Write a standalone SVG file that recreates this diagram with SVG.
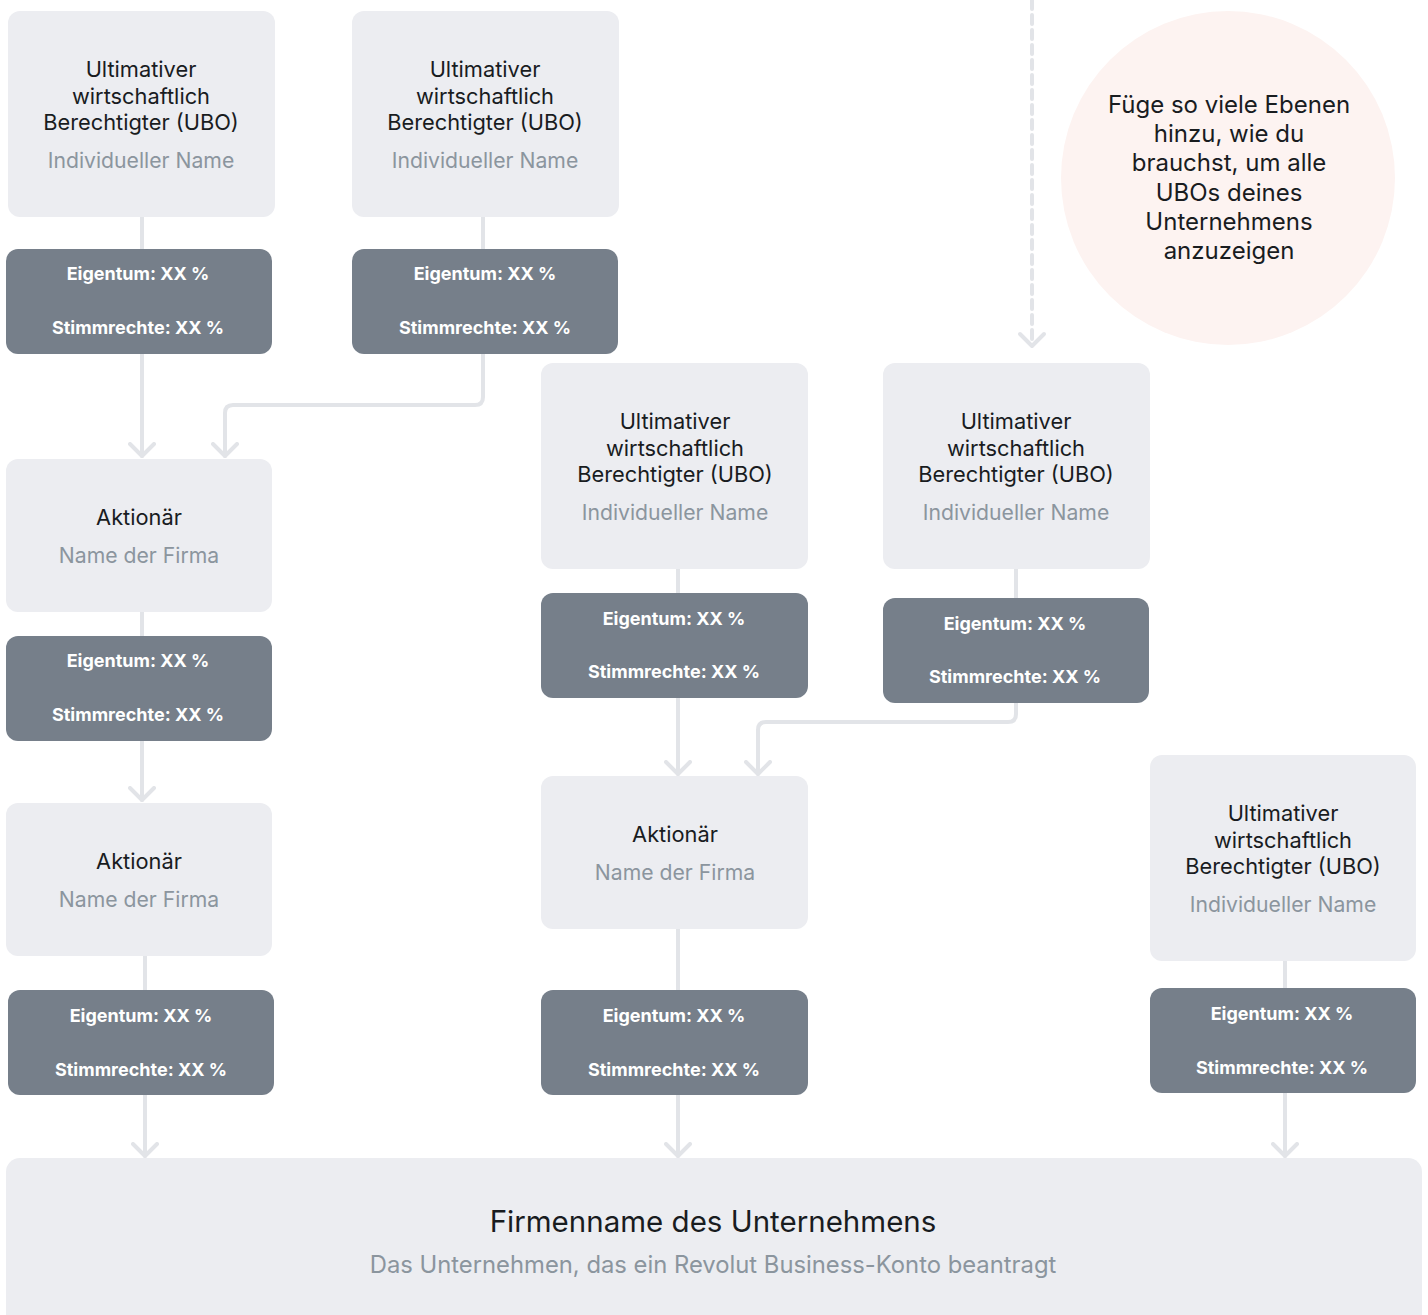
<svg xmlns="http://www.w3.org/2000/svg" width="1428" height="1315" viewBox="0 0 1428 1315">
<style>
.node{fill:#ECEDF1}
.lab{fill:#767F8A}
.t{font-family:Inter,"Noto Sans",sans-serif;font-size:21.8px;fill:#191C1F;text-anchor:middle}
.s{font-family:Inter,"Noto Sans",sans-serif;font-size:21.2px;fill:#8B959E;text-anchor:middle}
.w{font-family:Inter,"Noto Sans",sans-serif;font-size:18px;font-weight:700;fill:#FFFFFF;text-anchor:middle}
.c{font-family:Inter,"Noto Sans",sans-serif;font-size:24px;fill:#191C1F;text-anchor:middle}
.ln{fill:none;stroke:#E2E4E8;stroke-width:4;stroke-linecap:round;stroke-linejoin:round}
</style>
<defs>
<marker id="ah2" viewBox="-14 -14 28 28" markerWidth="28" markerHeight="28" refX="0" refY="0" orient="auto" markerUnits="userSpaceOnUse">
<path d="M-12,-12 L0,0 L-12,12" fill="none" stroke="#E2E4E8" stroke-width="4" stroke-linecap="round" stroke-linejoin="round"/>
</marker>
</defs>
<rect width="1428" height="1315" fill="#FFFFFF"/>

<g id="note">
<circle cx="1228" cy="178" r="167" fill="#FDF3F1"/>
<text class="c"><tspan x="1229" y="113">Füge so viele Ebenen</tspan><tspan x="1229" y="142">hinzu, wie du</tspan><tspan x="1229" y="171">brauchst, um alle</tspan><tspan x="1229" y="201">UBOs deines</tspan><tspan x="1229" y="230">Unternehmens</tspan><tspan x="1229" y="259">anzuzeigen</tspan></text>
</g>

<g id="connectors">
<path class="ln" d="M1032,0 V344" stroke-dasharray="9 6" stroke-linecap="butt"/>
<path class="ln" d="M1020,334 L1032,346 L1044,334"/>
<path class="ln" d="M142,217 V249"/>
<path class="ln" d="M142,354 V456" marker-end="url(#ah2)"/>
<path class="ln" d="M483,217 V249"/>
<path class="ln" d="M483,354 V397 Q483,405 475,405 H233 Q225,405 225,413 V456" marker-end="url(#ah2)"/>
<path class="ln" d="M142,612 V636"/>
<path class="ln" d="M142,741 V800" marker-end="url(#ah2)"/>
<path class="ln" d="M145,956 V990"/>
<path class="ln" d="M145,1095 V1156" marker-end="url(#ah2)"/>
<path class="ln" d="M678,569 V593"/>
<path class="ln" d="M678,698 V774" marker-end="url(#ah2)"/>
<path class="ln" d="M1016,569 V598"/>
<path class="ln" d="M1016,703 V714 Q1016,722 1008,722 H766 Q758,722 758,730 V774" marker-end="url(#ah2)"/>
<path class="ln" d="M678,929 V990"/>
<path class="ln" d="M678,1095 V1156" marker-end="url(#ah2)"/>
<path class="ln" d="M1285,961 V988"/>
<path class="ln" d="M1285,1093 V1156" marker-end="url(#ah2)"/>
</g>

<g id="ubo1">
<rect class="node" x="8" y="11" width="267" height="206" rx="12"/>
<text class="t"><tspan x="141" y="77">Ultimativer</tspan><tspan x="141" y="104">wirtschaftlich</tspan><tspan x="141" y="130">Berechtigter (UBO)</tspan></text>
<text class="s" x="141" y="168">Individueller Name</text>
</g>
<g id="lab1">
<rect class="lab" x="6" y="249" width="266" height="105" rx="12"/>
<text class="w" x="138" y="280">Eigentum: XX %</text>
<text class="w" x="138" y="334">Stimmrechte: XX %</text>
</g>

<g id="ubo2">
<rect class="node" x="352" y="11" width="267" height="206" rx="12"/>
<text class="t"><tspan x="485" y="77">Ultimativer</tspan><tspan x="485" y="104">wirtschaftlich</tspan><tspan x="485" y="130">Berechtigter (UBO)</tspan></text>
<text class="s" x="485" y="168">Individueller Name</text>
</g>
<g id="lab2">
<rect class="lab" x="352" y="249" width="266" height="105" rx="12"/>
<text class="w" x="485" y="280">Eigentum: XX %</text>
<text class="w" x="485" y="334">Stimmrechte: XX %</text>
</g>

<g id="akt1">
<rect class="node" x="6" y="459" width="266" height="153" rx="12"/>
<text class="t" x="139" y="525">Aktionär</text>
<text class="s" x="139" y="563">Name der Firma</text>
</g>
<g id="lab3">
<rect class="lab" x="6" y="636" width="266" height="105" rx="12"/>
<text class="w" x="138" y="667">Eigentum: XX %</text>
<text class="w" x="138" y="721">Stimmrechte: XX %</text>
</g>

<g id="akt2">
<rect class="node" x="6" y="803" width="266" height="153" rx="12"/>
<text class="t" x="139" y="869">Aktionär</text>
<text class="s" x="139" y="907">Name der Firma</text>
</g>
<g id="lab4">
<rect class="lab" x="8" y="990" width="266" height="105" rx="12"/>
<text class="w" x="141" y="1022">Eigentum: XX %</text>
<text class="w" x="141" y="1076">Stimmrechte: XX %</text>
</g>

<g id="ubo3">
<rect class="node" x="541" y="363" width="267" height="206" rx="12"/>
<text class="t"><tspan x="675" y="429">Ultimativer</tspan><tspan x="675" y="456">wirtschaftlich</tspan><tspan x="675" y="482">Berechtigter (UBO)</tspan></text>
<text class="s" x="675" y="520">Individueller Name</text>
</g>
<g id="lab5">
<rect class="lab" x="541" y="593" width="267" height="105" rx="12"/>
<text class="w" x="674" y="625">Eigentum: XX %</text>
<text class="w" x="674" y="678">Stimmrechte: XX %</text>
</g>

<g id="ubo4">
<rect class="node" x="883" y="363" width="267" height="206" rx="12"/>
<text class="t"><tspan x="1016" y="429">Ultimativer</tspan><tspan x="1016" y="456">wirtschaftlich</tspan><tspan x="1016" y="482">Berechtigter (UBO)</tspan></text>
<text class="s" x="1016" y="520">Individueller Name</text>
</g>
<g id="lab6">
<rect class="lab" x="883" y="598" width="266" height="105" rx="12"/>
<text class="w" x="1015" y="630">Eigentum: XX %</text>
<text class="w" x="1015" y="683">Stimmrechte: XX %</text>
</g>

<g id="akt3">
<rect class="node" x="541" y="776" width="267" height="153" rx="12"/>
<text class="t" x="675" y="842">Aktionär</text>
<text class="s" x="675" y="880">Name der Firma</text>
</g>
<g id="lab7">
<rect class="lab" x="541" y="990" width="267" height="105" rx="12"/>
<text class="w" x="674" y="1022">Eigentum: XX %</text>
<text class="w" x="674" y="1076">Stimmrechte: XX %</text>
</g>

<g id="ubo5">
<rect class="node" x="1150" y="755" width="266" height="206" rx="12"/>
<text class="t"><tspan x="1283" y="821">Ultimativer</tspan><tspan x="1283" y="848">wirtschaftlich</tspan><tspan x="1283" y="874">Berechtigter (UBO)</tspan></text>
<text class="s" x="1283" y="912">Individueller Name</text>
</g>
<g id="lab8">
<rect class="lab" x="1150" y="988" width="266" height="105" rx="12"/>
<text class="w" x="1282" y="1020">Eigentum: XX %</text>
<text class="w" x="1282" y="1074">Stimmrechte: XX %</text>
</g>

<g id="company">
<rect class="node" x="6" y="1158" width="1416" height="170" rx="14"/>
<text class="t" x="713" y="1232" style="font-size:29.5px">Firmenname des Unternehmens</text>
<text class="s" x="713" y="1273" style="font-size:23.8px">Das Unternehmen, das ein Revolut Business-Konto beantragt</text>
</g>
</svg>
